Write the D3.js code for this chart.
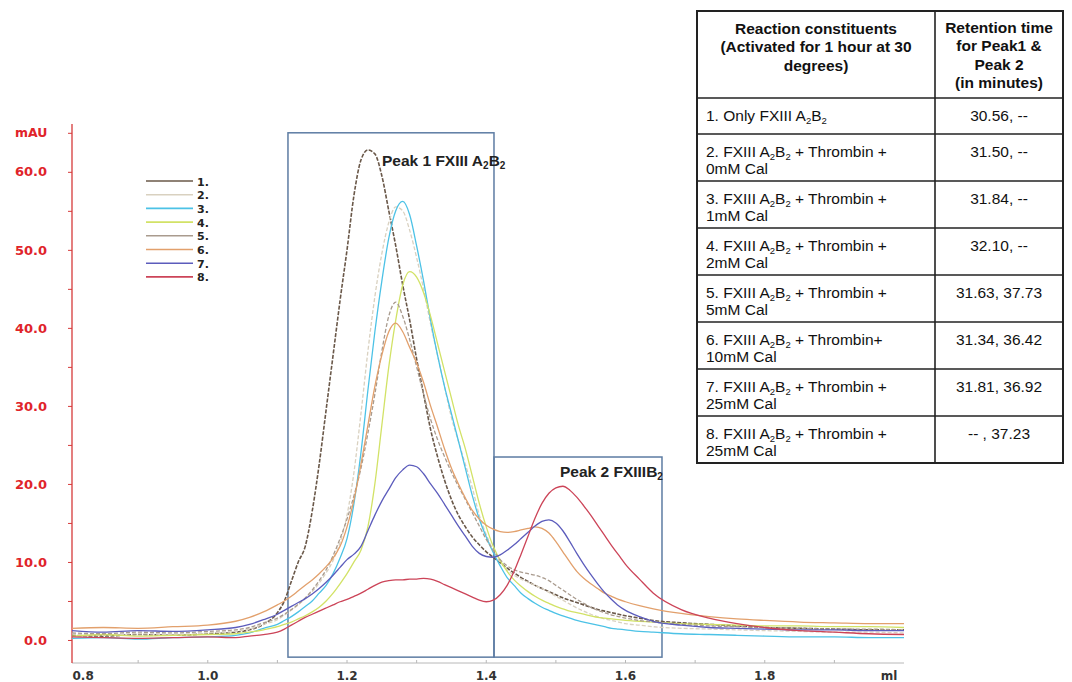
<!DOCTYPE html>
<html>
<head>
<meta charset="utf-8">
<script src="https://cdn.jsdelivr.net/npm/d3@7"></script>
<style>
  body { margin: 0; background: #fff; }
  text { font-family: "Liberation Sans", Arial, sans-serif; }
  .ax text, text.ax { font-family: "DejaVu Sans", sans-serif; font-weight: bold; }
</style>
</head>
<body>
<svg id="chart" width="1072" height="682"></svg>
<script>
// elution volume grid (ml), shared by all traces
var mlGrid = [0.805, 0.85, 0.90, 0.95, 1.00, 1.04, 1.06, 1.08,
  1.10, 1.11, 1.12, 1.13, 1.14, 1.15, 1.16, 1.17, 1.18, 1.19,
  1.20, 1.21, 1.22, 1.23, 1.24, 1.25, 1.26, 1.27, 1.28, 1.29,
  1.30, 1.31, 1.32, 1.33, 1.34, 1.35, 1.36, 1.37, 1.38, 1.39,
  1.40, 1.41, 1.42, 1.43, 1.44, 1.45, 1.46, 1.47, 1.48, 1.49,
  1.50, 1.51, 1.52, 1.53, 1.54, 1.55, 1.56, 1.57, 1.58, 1.59,
  1.60, 1.62, 1.64, 1.68, 1.72, 1.76, 1.80, 1.85, 1.90, 1.95, 2.00];

// absorbance (mAU)
var trace1 = [0.6, 0.5, 0.7, 0.6, 0.8, 1.0, 1.3, 2.0,
  3.5, 5.0, 7.5, 10.0, 12.0, 16.5, 22.5, 29.5, 36.5, 43.5,
  50.0, 57.0, 61.5, 62.8, 62.3, 59.5, 55.0, 50.5, 45.5, 41.0,
  36.0, 31.5, 27.0, 23.5, 20.5, 18.0, 16.0, 14.5, 13.2, 12.2,
  11.3, 10.6, 9.9, 9.2, 8.6, 8.0, 7.5, 7.0, 6.6, 6.2,
  5.8, 5.4, 5.1, 4.8, 4.5, 4.2, 3.9, 3.7, 3.5, 3.3,
  3.1, 2.8, 2.5, 2.2, 2.0, 1.8, 1.6, 1.5, 1.4, 1.3, 1.3];
var trace2 = [0.8, 0.6, 0.8, 0.7, 0.9, 1.1, 1.4, 2.0,
  2.6, 3.2, 3.8, 4.5, 5.3, 6.2, 7.3, 8.6, 10.2, 12.5,
  16.0, 21.5, 29.0, 37.0, 44.0, 49.5, 53.5, 55.5, 55.0, 52.5,
  49.0, 45.0, 40.5, 36.5, 32.5, 28.5, 25.5, 22.5, 19.5, 16.0,
  13.5, 11.5, 10.0, 9.0, 8.3, 7.8, 7.4, 7.0, 6.6, 6.1,
  5.6, 5.1, 4.6, 4.1, 3.7, 3.3, 3.0, 2.7, 2.5, 2.3,
  2.1, 1.9, 1.7, 1.5, 1.4, 1.3, 1.2, 1.1, 1.0, 1.0, 0.9];
var trace3 = [0.2, 0.3, 0.1, 0.3, 0.4, 0.6, 0.9, 1.5,
  2.0, 2.5, 3.0, 3.6, 4.3, 5.0, 6.0, 7.0, 8.5, 10.5,
  13.0, 17.5, 24.0, 32.0, 39.5, 46.0, 51.5, 55.0, 56.2, 54.5,
  50.5, 46.0, 41.0, 36.5, 32.5, 29.0, 25.5, 22.0, 18.5, 15.5,
  13.2, 11.2, 9.5, 8.0, 7.0, 6.0, 5.3, 4.7, 4.2, 3.8,
  3.4, 3.1, 2.8, 2.5, 2.3, 2.1, 1.9, 1.7, 1.5, 1.4,
  1.3, 1.1, 1.0, 0.8, 0.7, 0.6, 0.5, 0.4, 0.4, 0.3, 0.3];
var trace4 = [0.5, 0.7, 0.5, 0.6, 0.7, 0.8, 1.0, 1.3,
  1.7, 2.0, 2.3, 2.7, 3.1, 3.6, 4.2, 5.0, 6.0, 7.2,
  8.5, 10.0, 11.5, 14.5, 20.0, 27.5, 35.0, 41.0, 45.5, 47.2,
  46.5, 44.5, 41.5, 38.0, 34.5, 31.0, 27.5, 24.5, 21.0, 17.5,
  14.5, 12.0, 10.2, 8.8, 7.7, 6.9, 6.2, 5.6, 5.1, 4.7,
  4.3, 4.0, 3.7, 3.5, 3.3, 3.1, 2.9, 2.8, 2.7, 2.6,
  2.5, 2.4, 2.3, 2.1, 2.0, 1.9, 1.8, 1.8, 1.7, 1.7, 1.6];
var trace5 = [0.9, 0.8, 1.0, 0.9, 1.1, 1.3, 1.6, 2.2,
  2.8, 3.3, 3.9, 4.6, 5.4, 6.4, 7.6, 9.0, 10.8, 13.0,
  15.5, 18.5, 22.0, 26.5, 31.5, 37.0, 41.5, 43.3, 41.5, 38.5,
  35.0, 31.5, 28.3, 25.7, 23.5, 21.5, 19.7, 18.0, 16.3, 14.6,
  12.9, 11.5, 10.3, 9.5, 9.0, 8.7, 8.5, 8.3, 8.0, 7.6,
  7.0, 6.4, 5.8, 5.2, 4.7, 4.2, 3.8, 3.5, 3.2, 3.0,
  2.8, 2.5, 2.3, 2.0, 1.8, 1.7, 1.6, 1.5, 1.4, 1.4, 1.3];
var trace6 = [1.5, 1.6, 1.5, 1.7, 1.9, 2.4, 2.9, 3.6,
  4.5, 5.0, 5.6, 6.3, 7.0, 7.7, 8.5, 9.4, 10.5, 12.0,
  14.5, 18.0, 22.5, 27.5, 32.5, 36.5, 39.5, 40.6, 39.5, 37.5,
  35.5, 33.0, 30.0, 27.3, 24.5, 22.0, 20.0, 18.2, 16.6, 15.5,
  14.7, 14.2, 13.9, 13.8, 13.9, 14.1, 14.3, 14.5, 14.3, 13.7,
  12.6, 11.3, 10.0, 8.8, 7.9, 7.2, 6.6, 6.0, 5.6, 5.2,
  4.9, 4.4, 4.0, 3.4, 3.0, 2.7, 2.5, 2.3, 2.2, 2.1, 2.1];
var trace7 = [1.2, 1.0, 1.2, 1.1, 1.3, 1.6, 2.0, 2.6,
  3.3, 3.8, 4.3, 4.8, 5.3, 5.9, 6.6, 7.4, 8.3, 9.3,
  10.3, 11.0, 12.0, 14.0, 16.0, 17.8, 19.3, 20.8, 21.8, 22.4,
  22.2, 21.3, 20.0, 18.8, 17.4, 16.0, 14.6, 13.3, 12.0, 11.1,
  10.7, 10.6, 10.9, 11.5, 12.2, 13.0, 13.8, 14.6, 15.2, 15.4,
  15.0, 14.0, 12.6, 11.1, 9.7, 8.4, 7.2, 6.1, 5.2, 4.4,
  3.8, 3.0, 2.4, 1.9, 1.6, 1.5, 1.4, 1.3, 1.3, 1.2, 1.2];
var trace8 = [0.4, 0.3, 0.2, 0.3, 0.4, 0.3, 0.5, 0.7,
  1.0, 1.4, 1.9, 2.4, 2.9, 3.3, 3.7, 4.1, 4.5, 4.9,
  5.2, 5.6, 6.0, 6.5, 7.0, 7.4, 7.6, 7.7, 7.7, 7.8,
  7.8, 7.9, 7.8, 7.5, 7.1, 6.7, 6.3, 5.9, 5.5, 5.1,
  4.9, 5.1, 5.8, 7.0, 8.8, 11.0, 13.3, 15.6, 17.5, 18.8,
  19.5, 19.7, 19.2, 18.3, 17.2, 16.0, 14.7, 13.4, 12.1, 10.9,
  9.7, 7.8, 6.0, 3.9, 2.8, 2.1, 1.6, 1.2, 1.0, 0.8, 0.7];

var traces = [trace1, trace2, trace3, trace4, trace5, trace6, trace7, trace8];
var traceNames = ["1.", "2.", "3.", "4.", "5.", "6.", "7.", "8."];
var traceColors = ["#6a5849", "#d9d1c0", "#4cc2e6", "#d2e266", "#a99b8e", "#e2a06c", "#5c5cbc", "#cc4458"];
var traceDash = ["4,1.5", "4,2", null, null, "4,2", null, null, null];

var xTicks = [0.8, 1.0, 1.2, 1.4, 1.6, 1.8];
var yTicks = [0, 10, 20, 30, 40, 50, 60];

// peak windows (ml) and their upper limits (mAU)
var peakLabels = ["Peak 1 FXIII A_2B_2", "Peak 2 FXIIIB_2"];
var peakFrom = [1.1152, 1.4111];
var peakTo = [1.4111, 1.6524];
var peakTop = [65.0, 23.45];

var headLeft = ["Reaction constituents", "(Activated for 1 hour at 30", "degrees)"];
var headRight = ["Retention time", "for Peak1 &", "Peak 2", "(in minutes)"];
var constituents = [
  ["1. Only FXIII A_2B_2"],
  ["2. FXIII A_2B_2 + Thrombin +", "0mM Cal"],
  ["3. FXIII A_2B_2 + Thrombin +", "1mM Cal"],
  ["4. FXIII A_2B_2 + Thrombin +", "2mM Cal"],
  ["5. FXIII A_2B_2 + Thrombin +", "5mM Cal"],
  ["6. FXIII A_2B_2 + Thrombin+", "10mM Cal"],
  ["7. FXIII A_2B_2 + Thrombin +", "25mM Cal"],
  ["8. FXIII A_2B_2 + Thrombin +", "25mM Cal"]
];
var retention = ["30.56, --", "31.50, --", "31.84, --", "32.10, --", "31.63, 37.73", "31.34, 36.42", "31.81, 36.92", "-- , 37.23"];

var svg = d3.select("#chart");

var x = d3.scaleLinear().domain([0.805, 2.0]).range([72, 904]);
var y = d3.scaleLinear().domain([-2.95, 66]).range([663, 125]);

// writes "A_2B_2" style strings as text with subscript tspans
function rich(sel, str, sub) {
  var parts = str.split(/_(\d)/);
  parts.forEach(function(p, i) {
    if (!p) return;
    if (i % 2 == 1) sel.append("tspan").attr("font-size", sub).attr("dy", 3).text(p);
    else sel.append("tspan").attr("dy", i > 0 ? -3 : 0).text(p);
  });
}

//x axis (grey baseline, minor ticks every 0.1)
var xAx = svg.append("g").attr("class", "ax");
xAx.append("line").attr("x1", 72).attr("x2", 904).attr("y1", 663).attr("y2", 663)
  .attr("stroke", "#b8b8b8").attr("stroke-width", 1);
xAx.selectAll("line.tk").data(d3.range(0.9, 2.0, 0.1)).enter().append("line")
  .attr("class", "tk")
  .attr("x1", function(d) { return x(d); }).attr("x2", function(d) { return x(d); })
  .attr("y1", 660).attr("y2", 663).attr("stroke", "#b8b8b8");
xAx.selectAll("text.lb").data(xTicks).enter().append("text")
  .attr("class", "lb")
  .attr("x", function(d, i) { return i == 0 ? x(d) + 4 : x(d); })
  .attr("y", 680)
  .attr("text-anchor", function(d, i) { return i == 0 ? "start" : "middle"; })
  .style("font-size", "12px").style("fill", "#333")
  .text(function(d) { return d.toFixed(1); });
xAx.append("text").attr("x", 889).attr("y", 680).attr("text-anchor", "middle")
  .style("font-size", "12px").style("fill", "#333").text("ml");

//y axis in red
var yAxis = d3.axisLeft(y).tickValues(d3.range(0, 66, 5)).tickSize(4).tickPadding(21)
  .tickFormat(function(d) { return d % 10 == 0 ? d.toFixed(1) : ""; });
var yAx = svg.append("g").attr("class", "ax").attr("transform", "translate(72,0)").call(yAxis);
yAx.select(".domain").remove();
yAx.selectAll(".tick line").attr("stroke", "#d63a3a");
yAx.selectAll(".tick text").style("font-size", "13px").style("fill", "#e0242a");
yAx.append("line").attr("x1", 0).attr("x2", 0).attr("y1", 124).attr("y2", 663)
  .attr("stroke", "#d63a3a").attr("stroke-width", 1.3);
svg.append("text").attr("class", "ax").attr("x", 15).attr("y", 137)
  .style("font-size", "12.5px").style("fill", "#e0242a").text("mAU");

//peak windows
svg.selectAll("rect.win").data(peakLabels).enter().append("rect")
  .attr("class", "win")
  .attr("x", function(d, i) { return x(peakFrom[i]); })
  .attr("y", function(d, i) { return y(peakTop[i]); })
  .attr("width", function(d, i) { return x(peakTo[i]) - x(peakFrom[i]); })
  .attr("height", function(d, i) { return y(-2.2) - y(peakTop[i]); })
  .attr("fill", "none").attr("stroke", "#5d7ca3").attr("stroke-width", 1.5);

//traces
var line = d3.line()
  .x(function(d, i) { return x(mlGrid[i]); })
  .y(function(d) { return y(d); })
  .curve(d3.curveMonotoneX);

svg.selectAll("path.trace").data(traces).enter().append("path")
  .attr("class", "trace")
  .attr("d", line)
  .attr("fill", "none")
  .attr("stroke", function(d, i) { return traceColors[i]; })
  .attr("stroke-width", function(d, i) { return i == 0 ? 1.6 : 1.3; })
  .attr("stroke-dasharray", function(d, i) { return traceDash[i]; });

//peak labels
svg.selectAll("text.peak").data(peakLabels).enter().append("text")
  .attr("class", "peak")
  .attr("x", function(d, i) { return x(peakFrom[i]) + (i == 0 ? 94 : 66); })
  .attr("y", function(d, i) { return y(peakTop[i]) + (i == 0 ? 33 : 20); })
  .style("font-size", "15.5px").style("font-weight", "bold").style("fill", "#222")
  .each(function(d) { rich(d3.select(this), d, "10px"); });

//legend
var leg = svg.selectAll("g.leg").data(traceNames).enter().append("g")
  .attr("class", "leg")
  .attr("transform", function(d, i) { return "translate(146," + (181 + i * 13.7) + ")"; });
leg.append("line").attr("x1", 0).attr("x2", 47).attr("y1", 0).attr("y2", 0)
  .attr("stroke", function(d, i) { return traceColors[i]; }).attr("stroke-width", 1.6);
leg.append("text").attr("class", "ax").attr("x", 51).attr("y", 4.5)
  .style("font-size", "11px").style("fill", "#222").text(function(d) { return d; });

//table on the right
var tX0 = 697, tX1 = 935, tX2 = 1063, tY0 = 11;
var headH = 87, firstH = 36, rowH = 47;
function rowTop(i) { return i == 0 ? tY0 + headH : tY0 + headH + firstH + (i - 1) * rowH; }
var tBottom = rowTop(constituents.length);

var tbl = svg.append("g");
tbl.append("rect").attr("x", tX0).attr("y", tY0).attr("width", tX2 - tX0).attr("height", tBottom - tY0)
  .attr("fill", "none").attr("stroke", "#222").attr("stroke-width", 2);
tbl.append("line").attr("x1", tX1).attr("x2", tX1).attr("y1", tY0).attr("y2", tBottom)
  .attr("stroke", "#222").attr("stroke-width", 1.6);
tbl.selectAll("line.rowline").data(constituents).enter().append("line")
  .attr("class", "rowline")
  .attr("x1", tX0).attr("x2", tX2)
  .attr("y1", function(d, i) { return rowTop(i); }).attr("y2", function(d, i) { return rowTop(i); })
  .attr("stroke", "#222").attr("stroke-width", 1.6);

tbl.selectAll("text.hl").data(headLeft).enter().append("text")
  .attr("class", "hl")
  .attr("x", (tX0 + tX1) / 2).attr("y", function(d, i) { return tY0 + 22.5 + i * 18.5; })
  .attr("text-anchor", "middle").style("font-size", "15.5px").style("font-weight", "bold").style("fill", "#111")
  .text(function(d) { return d; });
tbl.selectAll("text.hr").data(headRight).enter().append("text")
  .attr("class", "hr")
  .attr("x", (tX1 + tX2) / 2).attr("y", function(d, i) { return tY0 + 21.5 + i * 18.5; })
  .attr("text-anchor", "middle").style("font-size", "15.5px").style("font-weight", "bold").style("fill", "#111")
  .text(function(d) { return d; });

var rows = tbl.selectAll("g.row").data(constituents).enter().append("g").attr("class", "row");
rows.each(function(lines, i) {
  var g = d3.select(this);
  lines.forEach(function(s, k) {
    var t = g.append("text").attr("x", tX0 + 9).attr("y", rowTop(i) + 22.5 + k * 17)
      .style("font-size", "15.5px").style("fill", "#111");
    rich(t, s, "9.5px");
  });
  g.append("text").attr("x", (tX1 + tX2) / 2).attr("y", rowTop(i) + 22.5)
    .attr("text-anchor", "middle").style("font-size", "15.5px").style("font-weight", "bold").style("font-weight", "normal").style("fill", "#111")
    .text(retention[i]);
});
</script>
</body>
</html>
